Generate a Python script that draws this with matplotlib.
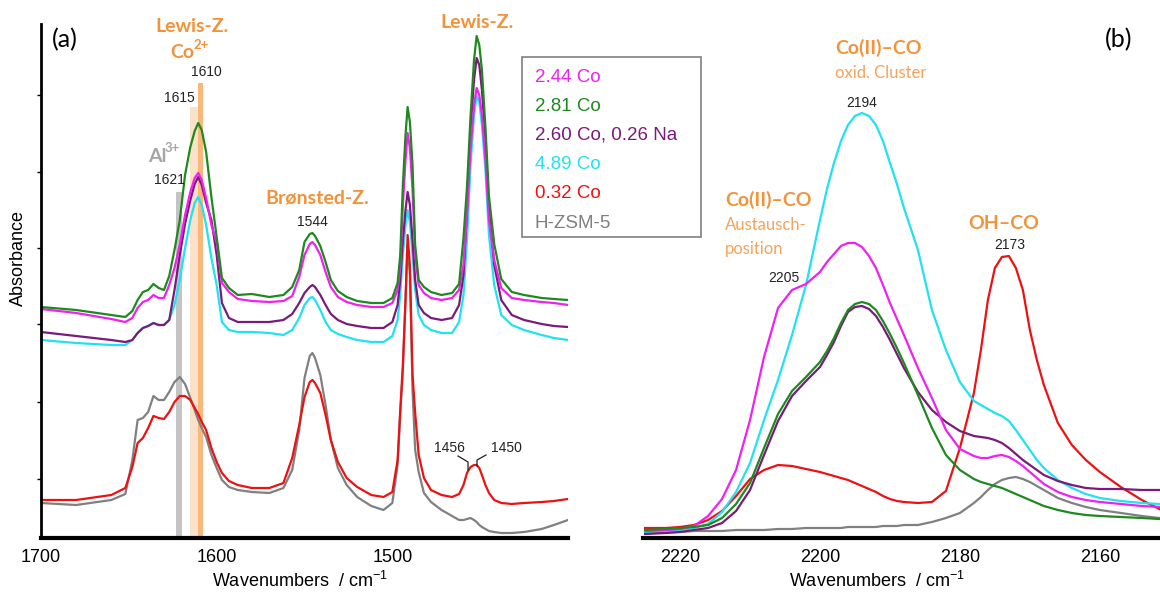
import matplotlib
matplotlib.use("Agg")
import matplotlib.pyplot as plt
from matplotlib.lines import Line2D
from matplotlib.patches import Rectangle

plt.rcParams["font.family"] = ["Liberation Sans", "DejaVu Sans"]
plt.rcParams["mathtext.fontset"] = "custom"
plt.rcParams["mathtext.rm"] = "Liberation Sans"
plt.rcParams["mathtext.it"] = "Liberation Sans:italic"

# ---- data -------------------------------------------------------------
samples = ["2.44 Co", "2.81 Co", "2.60 Co, 0.26 Na", "4.89 Co", "0.32 Co", "H-ZSM-5"]
colors = ["#F020F0", "#1E8A1E", "#7A1A7A", "#20E2F0", "#EE1111", "#808080"]

# (a) pyridine region
wn_a = [1700, 1680, 1660, 1652, 1648, 1645, 1642, 1639, 1636, 1633, 1630, 1627,
        1624, 1621, 1618, 1615, 1612.5, 1610.5, 1608.5, 1606, 1603, 1600, 1597,
        1593, 1588, 1580, 1570, 1562, 1557, 1553, 1550, 1547, 1545.5, 1544, 1541,
        1538, 1535, 1531, 1526, 1520, 1512, 1505, 1500, 1497, 1495.5, 1494,
        1492.5, 1491.3, 1490, 1488.5, 1487, 1485, 1482, 1478, 1472, 1466, 1462,
        1459.5, 1457.5, 1455.5, 1453.5, 1452, 1450.5, 1449, 1447, 1445, 1442,
        1438, 1432, 1425, 1415, 1408, 1400]
co244_a = [2.29, 2.25, 2.19, 2.16, 2.20, 2.30, 2.36, 2.38, 2.43, 2.40, 2.40,
           2.53, 2.70, 2.93, 3.23, 3.46, 3.60, 3.65, 3.58, 3.40, 3.13, 2.96,
           2.55, 2.46, 2.39, 2.37, 2.36, 2.37, 2.42, 2.61, 2.83, 2.94, 2.96,
           2.93, 2.83, 2.66, 2.51, 2.41, 2.36, 2.33, 2.31, 2.31, 2.35,
           2.48, 2.70, 3.33, 3.78, 4.05, 3.90, 3.48, 2.83, 2.53, 2.45,
           2.40, 2.38, 2.40, 2.48, 2.73, 3.23, 3.88, 4.33, 4.50, 4.43,
           4.23, 3.78, 3.18, 2.78, 2.50, 2.40, 2.38, 2.36, 2.35, 2.33]
co281_a = [2.31, 2.28, 2.23, 2.21, 2.27, 2.38, 2.46, 2.48, 2.54, 2.50,
           2.48, 2.62, 2.88, 3.18, 3.63, 3.91, 4.07, 4.15, 4.08, 3.86,
           3.41, 3.01, 2.60, 2.50, 2.43, 2.44, 2.41, 2.43, 2.51, 2.68,
           2.96, 3.04, 3.05, 3.02, 2.92, 2.76, 2.58, 2.47, 2.41, 2.37,
           2.35, 2.35, 2.40, 2.55, 2.83, 3.53, 4.03, 4.31, 4.16, 3.73,
           2.93, 2.58, 2.51, 2.46, 2.43, 2.45, 2.54, 3.00, 3.51, 4.21,
           4.78, 5.02, 4.93, 4.68, 4.11, 3.42, 2.94, 2.59, 2.46, 2.43,
           2.40, 2.39, 2.38]
co260na_a = [2.06, 2.02, 1.98, 1.96, 1.98, 2.05, 2.10, 2.12, 2.15, 2.13, 2.13,
             2.18, 2.48, 2.83, 3.14, 3.38, 3.54, 3.61, 3.53, 3.35, 3.18, 2.83,
             2.35, 2.20, 2.16, 2.16, 2.16, 2.18, 2.24, 2.35, 2.45, 2.51, 2.53,
             2.51, 2.43, 2.33, 2.24, 2.18, 2.14, 2.12, 2.10, 2.10, 2.16,
             2.33, 2.58, 2.98, 3.28, 3.46, 3.33, 2.98, 2.58, 2.33, 2.25,
             2.20, 2.18, 2.20, 2.33, 2.63, 3.28, 4.08, 4.58, 4.80, 4.73,
             4.48, 3.98, 3.28, 2.73, 2.38, 2.23, 2.18, 2.14, 2.12, 2.11]
co489_a = [1.98, 1.95, 1.93, 1.93, 1.98, 2.05, 2.10, 2.12, 2.15, 2.13, 2.13,
           2.18, 2.33, 2.58, 2.90, 3.18, 3.35, 3.41, 3.33, 3.13, 2.80, 2.53,
           2.16, 2.08, 2.06, 2.06, 2.05, 2.03, 2.08, 2.20, 2.33, 2.40, 2.41,
           2.38, 2.28, 2.16, 2.08, 2.04, 2.01, 1.98, 1.96, 1.96, 2.02,
           2.18, 2.43, 2.83, 3.13, 3.28, 3.16, 2.83, 2.48, 2.23, 2.13,
           2.08, 2.05, 2.05, 2.16, 2.43, 2.98, 3.73, 4.23, 4.42, 4.36,
           4.13, 3.68, 3.03, 2.53, 2.23, 2.13, 2.08, 2.03, 2.00, 1.98]
co032_a = [0.38, 0.38, 0.43, 0.50, 0.71, 0.95, 1.00, 1.10, 1.22, 1.20, 1.19,
           1.26, 1.36, 1.42, 1.42, 1.38, 1.30, 1.24, 1.16, 1.08, 0.90, 0.76,
           0.65, 0.57, 0.53, 0.50, 0.50, 0.55, 0.80, 1.13, 1.41, 1.56, 1.58,
           1.55, 1.45, 1.23, 0.98, 0.76, 0.60, 0.51, 0.43, 0.41, 0.46,
           0.78, 1.28, 1.73, 2.38, 3.03, 2.73, 1.63, 1.25, 0.83, 0.60,
           0.48, 0.43, 0.41, 0.44, 0.53, 0.65, 0.71, 0.73, 0.73, 0.70,
           0.63, 0.53, 0.45, 0.38, 0.35, 0.34, 0.35, 0.36, 0.37, 0.39]
hzsm5_a = [0.35, 0.33, 0.38, 0.44, 0.78, 1.18, 1.20, 1.26, 1.42, 1.38, 1.38,
           1.46, 1.56, 1.61, 1.54, 1.40, 1.28, 1.18, 1.10, 1.01, 0.83, 0.70,
           0.58, 0.51, 0.48, 0.46, 0.45, 0.50, 0.68, 1.08, 1.60, 1.82, 1.85,
           1.80, 1.63, 1.33, 0.98, 0.70, 0.53, 0.41, 0.32, 0.28, 0.35,
           0.73, 1.23, 1.68, 2.38, 2.93, 2.63, 1.48, 0.88, 0.66, 0.45,
           0.36, 0.28, 0.22, 0.18, 0.18, 0.19, 0.20, 0.18, 0.16, 0.13,
           0.11, 0.09, 0.07, 0.06, 0.05, 0.05, 0.06, 0.09, 0.13, 0.18]

# marker bands in (a): Al3+ 1621, Co2+ 1615 / 1610
band_wn = [1621.5, 1612.9, 1609.2]
band_width = [3.4, 4.6, 2.8]
band_top = [3.46, 4.31, 4.55]
band_colors = ["#C4C4C4", "#FCE1C9", "#F8B87A"]

# (b) CO region
wn_b = [2225, 2222, 2220, 2218, 2216, 2214, 2212, 2210, 2208, 2206, 2204, 2202,
        2200, 2199, 2198, 2197, 2196, 2195, 2194, 2193, 2192, 2191, 2190, 2189,
        2188, 2186, 2184, 2182, 2180, 2178, 2177, 2176, 2175, 2174, 2173, 2172,
        2171, 2170, 2169, 2168, 2166, 2164, 2162, 2160, 2157, 2154, 2151.5]
co244_b = [0.07, 0.08, 0.09, 0.12, 0.22, 0.39, 0.68, 1.18, 1.81, 2.30, 2.48, 2.54,
           2.66, 2.76, 2.84, 2.92, 2.95, 2.95, 2.91, 2.82, 2.70, 2.53, 2.35, 2.19,
           2.03, 1.70, 1.40, 1.08, 0.89, 0.82, 0.80, 0.80, 0.82, 0.83, 0.81, 0.77,
           0.72, 0.66, 0.60, 0.54, 0.46, 0.41, 0.38, 0.36, 0.34, 0.32, 0.31]
co281_b = [0.08, 0.09, 0.10, 0.11, 0.13, 0.20, 0.34, 0.55, 0.90, 1.24, 1.47, 1.61,
           1.76, 1.87, 2.00, 2.15, 2.28, 2.34, 2.36, 2.34, 2.28, 2.17, 2.04, 1.90,
           1.75, 1.43, 1.10, 0.83, 0.68, 0.59, 0.56, 0.54, 0.52, 0.50, 0.47, 0.44,
           0.41, 0.38, 0.35, 0.32, 0.28, 0.25, 0.23, 0.22, 0.21, 0.20, 0.19]
co260na_b = [0.04, 0.05, 0.06, 0.08, 0.10, 0.15, 0.27, 0.48, 0.83, 1.17, 1.42, 1.57,
             1.71, 1.83, 1.96, 2.12, 2.26, 2.31, 2.32, 2.29, 2.22, 2.11, 1.98, 1.84,
             1.70, 1.46, 1.28, 1.16, 1.07, 1.02, 1.01, 1.00, 0.98, 0.95, 0.90, 0.84,
             0.78, 0.73, 0.68, 0.63, 0.57, 0.53, 0.50, 0.49, 0.49, 0.48, 0.48]
co489_b = [0.06, 0.07, 0.08, 0.10, 0.14, 0.26, 0.46, 0.75, 1.18, 1.58, 2.03, 2.53,
           3.18, 3.49, 3.75, 3.97, 4.13, 4.22, 4.25, 4.22, 4.13, 3.97, 3.75, 3.54,
           3.30, 2.88, 2.28, 1.88, 1.56, 1.37, 1.33, 1.29, 1.25, 1.22, 1.17, 1.08,
           0.98, 0.88, 0.78, 0.70, 0.58, 0.50, 0.44, 0.40, 0.37, 0.35, 0.34]
co032_b = [0.10, 0.10, 0.11, 0.13, 0.18, 0.27, 0.42, 0.59, 0.68, 0.73, 0.72, 0.69,
           0.66, 0.64, 0.62, 0.60, 0.58, 0.55, 0.52, 0.49, 0.46, 0.42, 0.39, 0.37,
           0.36, 0.35, 0.36, 0.47, 0.90, 1.45, 1.88, 2.38, 2.70, 2.81, 2.82, 2.70,
           2.48, 2.08, 1.78, 1.53, 1.15, 0.93, 0.78, 0.66, 0.51, 0.38, 0.29]
hzsm5_b = [0.06, 0.06, 0.06, 0.07, 0.07, 0.07, 0.08, 0.08, 0.08, 0.09, 0.09, 0.10,
           0.10, 0.10, 0.10, 0.10, 0.11, 0.11, 0.11, 0.11, 0.11, 0.12, 0.12, 0.12,
           0.13, 0.13, 0.16, 0.20, 0.25, 0.35, 0.41, 0.48, 0.54, 0.58, 0.60, 0.61,
           0.59, 0.56, 0.52, 0.48, 0.40, 0.35, 0.31, 0.28, 0.25, 0.22, 0.20]

spectra_a = [co244_a, co281_a, co260na_a, co489_a, co032_a, hzsm5_a]
spectra_b = [co244_b, co281_b, co260na_b, co489_b, co032_b, hzsm5_b]
draw_order = [5, 4, 3, 2, 0, 1]

# ---- layout ------------------------------------------------------------
W, H = 1160, 593
fig = plt.figure(figsize=(W / 100, H / 100), dpi=100)


def fx(x):
    return x / W


def fy(y):
    return 1 - y / H


ax_a = fig.add_axes([fx(41), fy(538), fx(568) - fx(41), fy(24) - fy(538)])
ax_b = fig.add_axes([fx(643), fy(538), fx(1160) - fx(643), fy(24) - fy(538)])

ax_a.bar(band_wn, band_top, width=band_width, color=band_colors, zorder=0)
for i in draw_order:
    ax_a.plot(wn_a, spectra_a[i], color=colors[i], lw=1.6, zorder=2)
    ax_b.plot(wn_b, spectra_b[i], color=colors[i], lw=1.6, zorder=2)

ax_a.set_xlim(1700, 1400)
ax_b.set_xlim(2225.3, 2151.4)
for ax in (ax_a, ax_b):
    ax.set_ylim(0, 5.14)
    ax.spines["top"].set_visible(False)
    ax.spines["right"].set_visible(False)
    ax.spines["bottom"].set_linewidth(3)
    ax.tick_params(axis="x", length=0, labelsize=13, pad=8)

ax_a.spines["left"].set_linewidth(2)
ax_a.set_xticks([1700, 1600, 1500])
ax_a.set_yticks([0.59, 1.36, 2.14, 2.90, 3.66, 4.43])
ax_a.set_yticklabels([])
ax_a.tick_params(axis="y", length=3, width=1)

ax_b.spines["left"].set_visible(False)
ax_b.set_xticks([2220, 2200, 2180, 2160])
ax_b.set_yticks([])

fig.text(fx(300), fy(581), "Wavenumbers  / cm$^{-1}$", fontsize=13, ha="center", va="center")
fig.text(fx(877), fy(581), "Wavenumbers  / cm$^{-1}$", fontsize=13, ha="center", va="center")
fig.text(fx(18), fy(258), "Absorbance", fontsize=13, rotation=90, ha="center", va="center")

# legend box
fig.add_artist(Rectangle((fx(522), fy(237)), fx(701) - fx(522), fy(57) - fy(237),
                         transform=fig.transFigure, facecolor="white",
                         edgecolor="#7F7F7F", lw=1.2, zorder=3))
for k, name in enumerate(samples):
    fig.text(fx(535), fy(77 + 29.2 * k), name, color=colors[k], fontsize=13.5,
             ha="left", va="center", zorder=4)

# annotations
ORANGE = "#F39238"
LIGHT_OR = "#F5A25A"
TXT = "#222222"
lab = dict(family=["Lato", "DejaVu Sans"], fontweight="bold", color=ORANGE, fontsize=14)
sub = dict(family=["Lato", "DejaVu Sans"], color=LIGHT_OR, fontsize=12)
num = dict(color=TXT, fontsize=10)


def put(x, y, s, ha="center", **kw):
    fig.text(fx(x), fy(y), s, ha=ha, va="center", **kw)


put(52, 40, "(a)", ha="left", family=["Lato", "DejaVu Sans"], fontsize=18)
put(1105, 40, "(b)", ha="left", family=["Lato", "DejaVu Sans"], fontsize=18)

put(192, 27, "Lewis-Z.", **lab)
put(170, 53, "Co", ha="left", **lab)
put(193, 45, "2+", ha="left", **{**lab, "fontsize": 9.5})
put(206, 72, "1610", **num)
put(179, 98, "1615", **num)
put(148, 156, "Al", ha="left", **{**lab, "color": "#A6A6A6"})
put(165, 148, "3+", ha="left", **{**lab, "color": "#A6A6A6", "fontsize": 9.5})
put(169, 180, "1621", **num)
put(317, 198, "Brønsted-Z.", **lab)
put(312, 222, "1544", **num)
put(477, 22, "Lewis-Z.", **lab)
put(449, 448, "1456", **num)
put(506, 448, "1450", **num)
fig.add_artist(Line2D([fx(458), fx(468), fx(468)], [fy(456), fy(462), fy(470)],
                      transform=fig.transFigure, color=TXT, lw=0.9))
fig.add_artist(Line2D([fx(486), fx(477), fx(477)], [fy(455), fy(460), fy(466)],
                      transform=fig.transFigure, color=TXT, lw=0.9))

put(878, 48, "Co(II)–CO", **lab)
put(881, 73, "oxid. Cluster", **sub)
put(862, 103, "2194", **num)
put(725, 200, "Co(II)–CO", ha="left", **lab)
put(725, 225, "Austausch-", ha="left", **sub)
put(725, 249, "position", ha="left", **sub)
put(784, 278, "2205", **num)
put(1004, 223, "OH–CO", **lab)
put(1010, 245, "2173", **num)

fig.savefig("out.png", dpi=100)
